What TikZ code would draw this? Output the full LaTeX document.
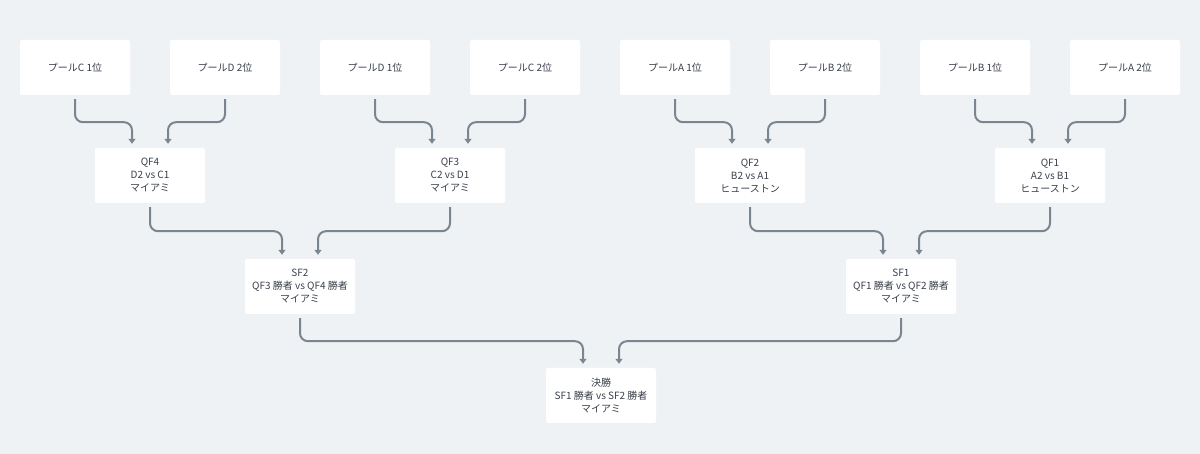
\documentclass[tikz,border=0pt]{standalone}
\usepackage{fontspec}
\setmainfont{Noto Sans CJK JP}
\usetikzlibrary{arrows.meta}
\definecolor{bg}{HTML}{EFF2F5}
\definecolor{edge}{HTML}{7B8592}
\definecolor{txt}{HTML}{3A404A}

\begin{document}
\begin{tikzpicture}
  [x=1pt, y=1pt,
   every node/.style={fill=white, rounded corners=2pt, minimum width=110pt, minimum height=55pt,
     align=center, text=txt, font=\fontsize{10}{13}\selectfont},
   link/.style={draw=edge, line width=2pt, rounded corners=8pt, shorten <=4pt, shorten >=4pt,
     -{Triangle[length=5pt,width=7pt]}}]
  \fill[bg] (0,0) rectangle (1200,454);
  \node (pc1) at (75,386.5) {プールC 1位};
  \node (pd2) at (225,386.5) {プールD 2位};
  \node (pd1) at (375,386.5) {プールD 1位};
  \node (pc2) at (525,386.5) {プールC 2位};
  \node (pa1) at (675,386.5) {プールA 1位};
  \node (pb2) at (825,386.5) {プールB 2位};
  \node (pb1) at (975,386.5) {プールB 1位};
  \node (pa2) at (1125,386.5) {プールA 2位};

  \node (qf4) at (150,278.5) {QF4\\D2 vs C1\\マイアミ};
  \node (qf3) at (450,278.5) {QF3\\C2 vs D1\\マイアミ};
  \node (qf2) at (750,278.5) {QF2\\B2 vs A1\\ヒューストン};
  \node (qf1) at (1050,278.5) {QF1\\A2 vs B1\\ヒューストン};

  \node (sf2) at (300,167.5) {SF2\\QF3 勝者 vs QF4 勝者\\マイアミ};
  \node (sf1) at (901,167.5) {SF1\\QF1 勝者 vs QF2 勝者\\マイアミ};

  \node (final) at (601,58.5) {決勝\\SF1 勝者 vs SF2 勝者\\マイアミ};

  \draw[link] (pc1.south) -- ++(0,-27) -| ([xshift=-18pt]qf4.north);
  \draw[link] (pd2.south) -- ++(0,-27) -| ([xshift=18pt]qf4.north);
  \draw[link] (pd1.south) -- ++(0,-27) -| ([xshift=-18pt]qf3.north);
  \draw[link] (pc2.south) -- ++(0,-27) -| ([xshift=18pt]qf3.north);
  \draw[link] (pa1.south) -- ++(0,-27) -| ([xshift=-18pt]qf2.north);
  \draw[link] (pb2.south) -- ++(0,-27) -| ([xshift=18pt]qf2.north);
  \draw[link] (pb1.south) -- ++(0,-27) -| ([xshift=-18pt]qf1.north);
  \draw[link] (pa2.south) -- ++(0,-27) -| ([xshift=18pt]qf1.north);

  \draw[link] (qf4.south) -- ++(0,-28) -| ([xshift=-18pt]sf2.north);
  \draw[link] (qf3.south) -- ++(0,-28) -| ([xshift=18pt]sf2.north);
  \draw[link] (qf2.south) -- ++(0,-28) -| ([xshift=-18pt]sf1.north);
  \draw[link] (qf1.south) -- ++(0,-28) -| ([xshift=18pt]sf1.north);

  \draw[link] (sf2.south) -- ++(0,-27) -| ([xshift=-18pt]final.north);
  \draw[link] (sf1.south) -- ++(0,-27) -| ([xshift=18pt]final.north);
\end{tikzpicture}
\end{document}
